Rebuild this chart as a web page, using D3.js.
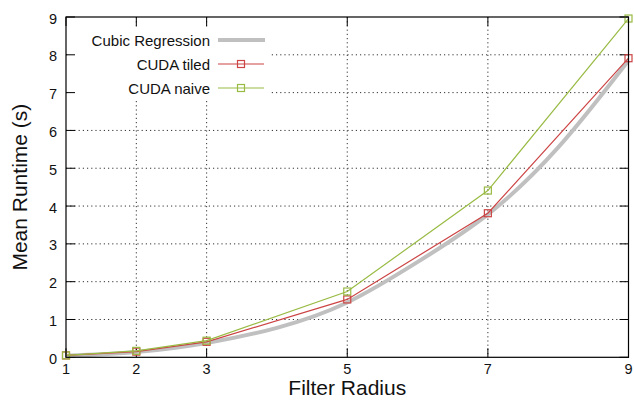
<!DOCTYPE html>
<html><head><meta charset="utf-8">
<script src="https://cdn.jsdelivr.net/npm/d3@7/dist/d3.min.js"></script>
<style>body{margin:0;background:#fff}svg{display:block}text{font-family:"Liberation Sans",Arial,sans-serif;fill:#111}</style>
</head><body>
<script>
const xTicks = [1,2,3,5,7,9];
const yTicks = [0,1,2,3,4,5,6,7,8,9];
const radius = [1,2,3,5,7,9];
const tiled = [0.05,0.15,0.41,1.53,3.81,7.91];
const naive = [0.05,0.17,0.44,1.74,4.41,8.96];
const regX = [1,2,3,4,5,6,7,8,9];
const regY = [0.04,0.14,0.38,0.78,1.45,2.52,3.78,5.55,7.85];
const seriesNames = ["Cubic Regression","CUDA tiled","CUDA naive"];
const colors = {reg:"#c0c0c0", tiled:"#cc4444", naive:"#99bb44"};

const W=634,H=403, L=66, R=628.5, T=17, B=357.3;
const svg=d3.select("body").append("svg").attr("width",W).attr("height",H);
const x=d3.scaleLinear().domain([1,9]).range([L,R]);
const y=d3.scaleLinear().domain([0,9]).range([B,T]);

// grid
const g=svg.append("g");
g.selectAll("line.gy").data(yTicks.filter(d=>d>0&&d<9)).join("line")
 .attr("x1",L).attr("x2",R).attr("y1",d=>y(d)).attr("y2",d=>y(d))
 .attr("stroke","#333").attr("stroke-width",1).attr("stroke-dasharray","1.2,3");
g.selectAll("line.gx").data(xTicks.filter(d=>d>1&&d<9)).join("line")
 .attr("y1",T).attr("y2",B).attr("x1",d=>x(d)).attr("x2",d=>x(d))
 .attr("stroke","#333").attr("stroke-width",1).attr("stroke-dasharray","1.2,3");

// legend background
svg.append("rect").attr("x",70).attr("y",28).attr("width",200).attr("height",71).attr("fill","#fff");

// ticks (mirrored)
const tk=svg.append("g").attr("stroke","#000").attr("stroke-width",1);
yTicks.forEach(d=>{
  tk.append("line").attr("x1",L).attr("x2",L+9).attr("y1",y(d)).attr("y2",y(d));
  tk.append("line").attr("x1",R).attr("x2",R-9).attr("y1",y(d)).attr("y2",y(d));
});
xTicks.forEach(d=>{
  tk.append("line").attr("x1",x(d)).attr("x2",x(d)).attr("y1",B).attr("y2",B-9);
  tk.append("line").attr("x1",x(d)).attr("x2",x(d)).attr("y1",T).attr("y2",T+9);
});

// tick labels
svg.append("g").selectAll("text").data(yTicks).join("text")
 .attr("x",57).attr("y",d=>y(d)+6.5).attr("text-anchor","end").attr("font-size",14.5).text(d=>d);
svg.append("g").selectAll("text").data(xTicks).join("text")
 .attr("x",d=>x(d)).attr("y",374).attr("text-anchor","middle").attr("font-size",14.5).text(d=>d);

// axis titles
svg.append("text").attr("x",(L+R)/2).attr("y",395).attr("text-anchor","middle").attr("font-size",21).text("Filter Radius");
svg.append("text").attr("transform",`translate(27,${(T+B)/2}) rotate(-90)`).attr("text-anchor","middle").attr("font-size",21).text("Mean Runtime (s)");

const clip=svg.append("g");
// regression
clip.append("path").datum(regX.map((d,i)=>[d,regY[i]]))
 .attr("d",d3.line().x(d=>x(d[0])).y(d=>y(d[1])).curve(d3.curveNatural))
 .attr("fill","none").attr("stroke",colors.reg).attr("stroke-width",4);

function series(vals,col){
  const pts=radius.map((d,i)=>[d,vals[i]]);
  clip.append("path").datum(pts).attr("d",d3.line().x(d=>x(d[0])).y(d=>y(d[1])))
   .attr("fill","none").attr("stroke",col).attr("stroke-width",1.2);
  clip.append("g").selectAll("rect").data(pts).join("rect")
   .attr("x",d=>x(d[0])-3.5).attr("y",d=>y(d[1])-3.5).attr("width",7).attr("height",7)
   .attr("fill","none").attr("stroke",col).attr("stroke-width",1.2);
}
series(tiled,colors.tiled);
series(naive,colors.naive);

// frame
svg.append("rect").attr("x",L).attr("y",T).attr("width",R-L).attr("height",B-T)
 .attr("fill","none").attr("stroke","#000").attr("stroke-width",1.2);

// legend
const lg=svg.append("g");
const ly=[40,64,88];
seriesNames.forEach((n,i)=>{
  lg.append("text").attr("x",210).attr("y",ly[i]+5.5).attr("text-anchor","end").attr("font-size",15).text(n);
});
lg.append("line").attr("x1",218).attr("x2",265).attr("y1",ly[0]).attr("y2",ly[0]).attr("stroke",colors.reg).attr("stroke-width",4);
[[colors.tiled,ly[1]],[colors.naive,ly[2]]].forEach(([c,yy])=>{
  lg.append("line").attr("x1",218).attr("x2",264).attr("y1",yy).attr("y2",yy).attr("stroke",c).attr("stroke-width",1.2);
  lg.append("rect").attr("x",241-3.5).attr("y",yy-3.5).attr("width",7).attr("height",7).attr("fill","none").attr("stroke",c).attr("stroke-width",1.2);
});
</script>
</body></html>
